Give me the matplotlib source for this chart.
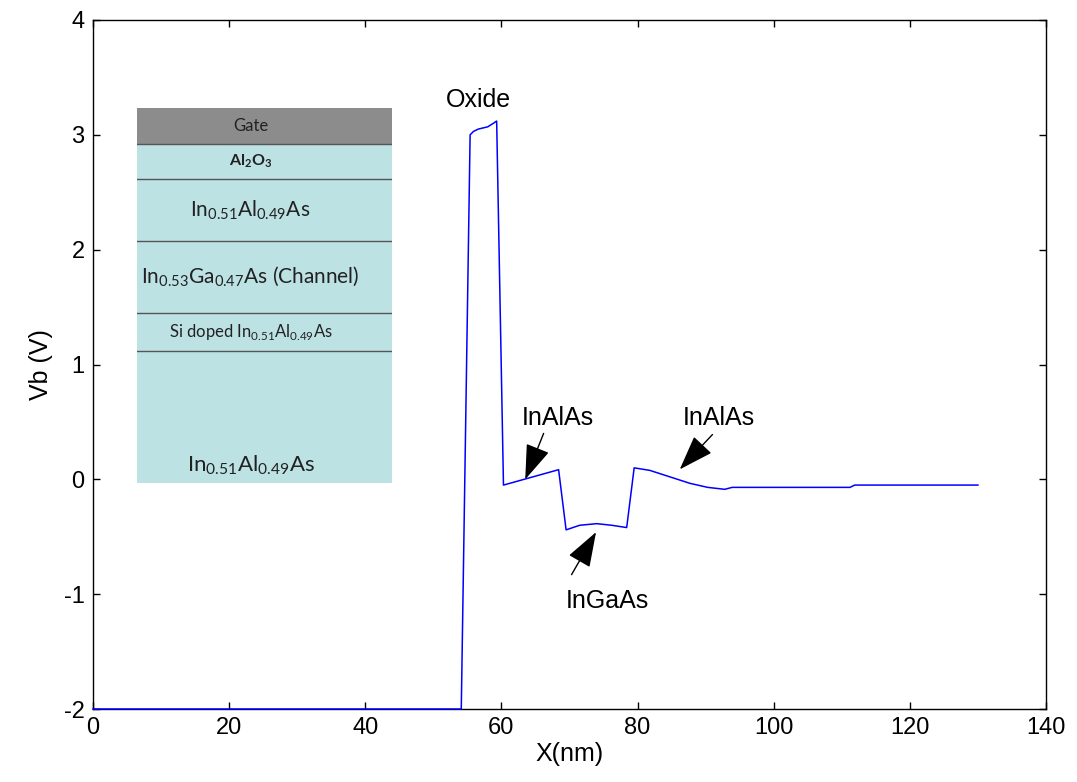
import numpy as np
import matplotlib
matplotlib.use('Agg')
import matplotlib.pyplot as plt

# conduction band profile
x_nm = [0, 54.1, 55.4, 55.9, 56.6, 58.0, 58.8, 59.3, 60.3, 68.4, 69.5, 71.5,
        74.0, 76.2, 78.4, 79.5, 81.8, 87.7, 90.3, 92.8, 93.9, 111.2, 111.9, 130.0]
vb = [-2, -2, 3.0, 3.03, 3.05, 3.07, 3.10, 3.12, -0.05, 0.084, -0.44, -0.40,
      -0.386, -0.40, -0.42, 0.10, 0.078, -0.035, -0.07, -0.087, -0.07, -0.07, -0.05, -0.05]

xticks = [0, 20, 40, 60, 80, 100, 120, 140]
yticks = [-2, -1, 0, 1, 2, 3, 4]

# annotations: label, label position, arrow tail, arrow head
notes = [('InAlAs', (68.3, 0.53), (66.2, 0.40), (63.5, 0.0)),
         ('InAlAs', (92.0, 0.53), (91.0, 0.39), (86.2, 0.087)),
         ('InGaAs', (75.5, -1.06), (70.3, -0.83), (73.9, -0.46))]

# layer stack (top to bottom), relative thickness in the sketch
layer_names = ['Gate',
               r'Al$_{\mathregular{2}}$O$_{\mathregular{3}}$',
               r'In$_{\mathregular{0.51}}$Al$_{\mathregular{0.49}}$As',
               r'In$_{\mathregular{0.53}}$Ga$_{\mathregular{0.47}}$As $\mathregular{(Channel)}$',
               r'Si doped In$_{\mathregular{0.51}}$Al$_{\mathregular{0.49}}$As',
               r'In$_{\mathregular{0.51}}$Al$_{\mathregular{0.49}}$As']
layer_thick = [36, 35, 62, 72, 38, 132]
layer_colors = ['#8c8c8c', '#bde2e4', '#bde2e4', '#bde2e4', '#bde2e4', '#bde2e4']
layer_fsize = [12, 11.5, 15, 15, 12, 16]
layer_weight = ['normal', 'bold', 'normal', 'normal', 'normal', 'normal']

plt.rcParams['font.family'] = ['Liberation Sans', 'DejaVu Sans']
plt.rcParams['axes.unicode_minus'] = False

fig = plt.figure(figsize=(10.77, 7.82), dpi=100)
ax = fig.add_axes([93 / 1077, 1 - 709 / 782, (1046 - 93) / 1077, (709 - 20) / 782])

ax.plot(x_nm, vb, color='#0000ff', lw=1.1, clip_on=False, zorder=3)
ax.set_xlim(0, 140)
ax.set_ylim(-2, 4)
ax.set_xticks(xticks)
ax.set_yticks(yticks)
ax.tick_params(direction='in', length=5, width=1, top=True, right=True,
               labelsize=17, pad=6)
ax.set_xlabel('X(nm)', fontsize=18, labelpad=2)
ax.set_ylabel('Vb (V)', fontsize=18, labelpad=8)
for s in ax.spines.values():
    s.set_linewidth(1)

# labels and arrows
ax.text(56.6, 3.3, 'Oxide', fontsize=18, ha='center', va='center')
arrow = dict(arrowstyle='-|>,head_length=1.0,head_width=0.35', color='k',
             lw=1, mutation_scale=22, shrinkA=0, shrinkB=0)
for lab, pos, tail, head in notes:
    ax.text(pos[0], pos[1], lab, fontsize=18, ha='center', va='center')
    ax.annotate('', xy=head, xytext=tail, arrowprops=arrow)

# device layer sketch
ins = fig.add_axes([137 / 1077, 1 - 483 / 782, (392 - 137) / 1077, (483 - 108) / 782])
total = sum(layer_thick)
top = total
for i, (name, t, c, fs, w) in enumerate(zip(layer_names, layer_thick, layer_colors,
                                             layer_fsize, layer_weight)):
    ins.bar(0.5, t, width=1, bottom=top - t, color=c, edgecolor='none')
    if i < len(layer_names) - 1:
        ins.axhline(top - t, color='#555555', lw=1)
        ty = top - t / 2
    else:
        ty = top - t + 18
    ins.text(0.445, ty, name, fontsize=fs, fontweight=w, family=['Lato', 'DejaVu Sans'],
             ha='center', va='center', color='#222222')
    top -= t
ins.set_xlim(0, 1)
ins.set_ylim(0, total)
ins.axis('off')

fig.savefig('out.png', dpi=100)
